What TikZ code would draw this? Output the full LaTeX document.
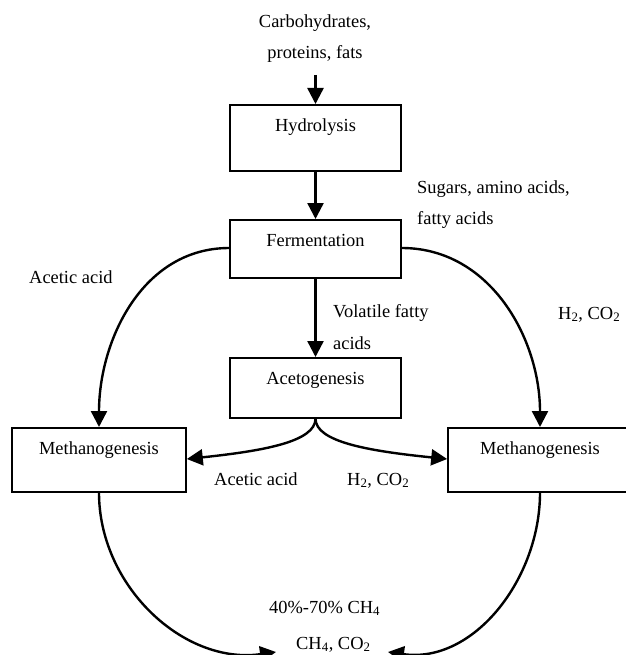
\documentclass[tikz,border=0pt]{standalone}
\usepackage{fontspec}
\setmainfont{Liberation Serif}
\usetikzlibrary{arrows.meta}
\begin{document}
\begin{tikzpicture}[x=1bp,y=-1bp,
  every node/.style={font=\fontsize{18.5}{20}\selectfont},
  stagebox/.style={draw, line width=1.6bp, inner sep=0pt, text height=27bp, minimum width=#1},
  lbl/.style={inner sep=0pt, anchor=base west},
  lblc/.style={inner sep=0pt, anchor=base},
  flow/.style={line width=2.4bp, -{Triangle[length=16bp,width=16bp]}}]
\useasboundingbox (0,0) rectangle (626,655);
\fill[white] (0,0) rectangle (626,655);

\node[stagebox=171bp, text depth=39bp, anchor=north] (hyd) at (315.5,104) {Hydrolysis};
\node[stagebox=171bp, text depth=31bp, anchor=north] (fer) at (315.5,219) {Fermentation};
\node[stagebox=171bp, text depth=33bp, anchor=north] (ace) at (315.5,357) {Acetogenesis};
\node[stagebox=174bp, text depth=37bp, anchor=north] (metl) at (99,427) {Methanogenesis};
\node[stagebox=184bp, text depth=37bp, anchor=north] (metr) at (540,427) {Methanogenesis};

\node[lblc] (in1) at (315,28) {Carbohydrates,};
\node[lblc] (in2) at (315,59) {proteins, fats};
\coordinate (src) at (315.5,75);
\coordinate (outl) at (276,652);
\coordinate (outr) at (388,652);

\node[lbl] (sug1) at (417,193) {Sugars, amino acids,};
\node[lbl] (sug2) at (417,224) {fatty acids};
\node[lbl] (aa1) at (29,283) {Acetic acid};
\node[lbl] (vfa1) at (333,317) {Volatile fatty};
\node[lbl] (vfa2) at (333,349) {acids};
\node[lbl] (hc1) at (558,319) {H\textsubscript{2}, CO\textsubscript{2}};
\node[lbl] (aa2) at (214,485) {Acetic acid};
\node[lbl] (hc2) at (347,485) {H\textsubscript{2}, CO\textsubscript{2}};
\node[lbl] (pct) at (269,613) {40\%-70\% CH\textsubscript{4}};
\node[lbl] (gas) at (296,649) {CH\textsubscript{4}, CO\textsubscript{2}};

\draw[flow] (src) -- (hyd.north);
\draw[flow] (hyd.south) -- (fer.north);
\draw[flow] (fer.south) -- (ace.north);
\draw[flow] (fer.west |- 0,248) to[out=180,in=90] (metl.north);
\draw[flow] (fer.east |- 0,248) to[out=0,in=90] (metr.north);
\draw[flow] (ace.south) .. controls (315.5,442) and (262,451) .. (metl.east |- 0,459);
\draw[flow] (ace.south) .. controls (315.5,442) and (369,451) .. (metr.west |- 0,459);
\draw[flow] (metl.south) to[out=-90,in=188] (outl);
\draw[flow] (metr.south) to[out=-90,in=-8] (outr);
\end{tikzpicture}
\end{document}
